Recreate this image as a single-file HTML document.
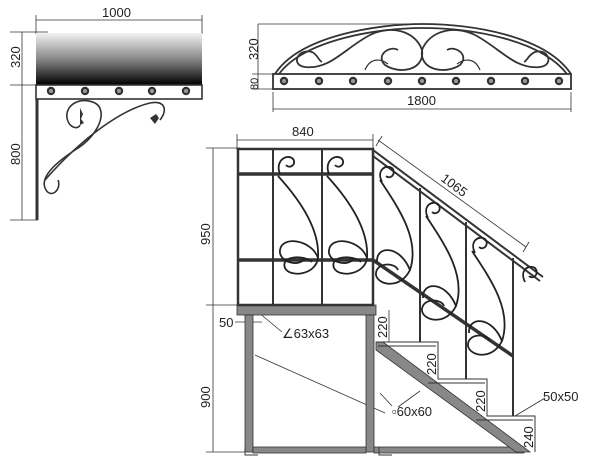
<!DOCTYPE html>
<html><head><meta charset="utf-8"><style>
html,body{margin:0;padding:0;background:#fff;width:600px;height:468px;overflow:hidden}
svg{display:block}
text{font-family:"Liberation Sans",sans-serif;font-size:13px;fill:#222}
</style></head><body>
<svg width="600" height="468" viewBox="0 0 600 468" xmlns="http://www.w3.org/2000/svg">
<defs>
<linearGradient id="g" x1="0" y1="0" x2="0" y2="1">
<stop offset="0" stop-color="#f2f2f2"/><stop offset="0.5" stop-color="#888"/><stop offset="1" stop-color="#000"/>
</linearGradient>
<g id="ros"><circle r="4.2" fill="#333"/><circle r="2" fill="#999"/></g>
</defs>
<g stroke="#333" fill="none" stroke-width="0.8">
<line x1="36" y1="20" x2="202" y2="20"/><line x1="36" y1="15" x2="36" y2="34"/><line x1="202" y1="15" x2="202" y2="34"/>
<line x1="22" y1="32" x2="22" y2="220"/><line x1="10" y1="32" x2="48" y2="32"/><line x1="10" y1="85" x2="36" y2="85"/><line x1="10" y1="220" x2="38" y2="220"/>
</g>
<rect x="36" y="33" width="166" height="52" fill="url(#g)"/>
<g stroke="#333" fill="none" stroke-width="1.6">
<rect x="36" y="85" width="166" height="14"/>
<line x1="37" y1="99" x2="37" y2="220" stroke-width="3"/>
<path d="M45,188 C40,175 60,160 75,150 C100,135 108,110 95,103 C80,96 65,105 67,118 C69,128 78,130 80,125"/>
<path d="M45,188 C50,200 62,190 58,180"/>
<path d="M45,180 C80,140 120,110 150,103 C165,100 168,110 160,120"/>
</g>
<path d="M80,108 l3,6 -2,5 3,4 -4,2z M150,118 l6,-4 3,4 -4,6z" fill="#333"/>
<g><use href="#ros" x="51" y="91"/><use href="#ros" x="85" y="91"/><use href="#ros" x="119" y="91"/><use href="#ros" x="152" y="91"/><use href="#ros" x="186" y="91"/></g>
<text x="102" y="17">1000</text>
<text transform="translate(20,68) rotate(-90)">320</text>
<text transform="translate(20,165) rotate(-90)">800</text>

<g stroke="#333" fill="none" stroke-width="0.8">
<line x1="258" y1="24" x2="420" y2="24"/><line x1="258" y1="24" x2="258" y2="89"/>
<line x1="252" y1="74" x2="274" y2="74"/><line x1="252" y1="89" x2="274" y2="89"/>
<line x1="273" y1="92" x2="273" y2="112"/><line x1="571" y1="92" x2="571" y2="112"/>
<line x1="273" y1="109" x2="571" y2="109"/>
</g>
<g stroke="#333" fill="none" stroke-width="1.8">
<rect x="273" y="74" width="298" height="15"/>
<path d="M275,74 C300,35 380,24 422,24 C470,24 545,35 571,74"/>
<path d="M279,74 C305,39 380,28 422,28 C470,28 540,39 567,74"/>
<path d="M422,50 C415,30 390,25 370,35 C345,48 330,70 305,67 C290,65 298,48 312,52 C318,55 318,60 322,62"/>
<path d="M422,50 C430,30 455,25 475,35 C500,48 515,70 540,67 C555,65 548,48 535,52 C528,55 528,60 524,62"/>
<path d="M422,50 C425,70 400,75 385,65 C375,55 390,45 398,50"/>
<path d="M422,50 C419,70 445,75 460,65 C470,55 455,45 447,50"/>
<path d="M365,70 C370,58 380,58 388,64" stroke-width="1.2"/>
<path d="M480,70 C475,58 465,58 457,64" stroke-width="1.2"/>
</g>
<g><use href="#ros" x="284" y="81"/><use href="#ros" x="319" y="81"/><use href="#ros" x="353" y="81"/><use href="#ros" x="388" y="81"/><use href="#ros" x="422" y="81"/><use href="#ros" x="456" y="81"/><use href="#ros" x="491" y="81"/><use href="#ros" x="525" y="81"/><use href="#ros" x="559" y="81"/></g>
<text x="407" y="105">1800</text>
<text transform="translate(258,60) rotate(-90)">320</text>
<text transform="translate(258,90) rotate(-90)" style="font-size:11px">80</text>

<g stroke="#333" fill="none" stroke-width="0.8">
<line x1="237" y1="140" x2="373" y2="140"/><line x1="237" y1="134" x2="237" y2="150"/><line x1="373" y1="134" x2="373" y2="150"/>
<line x1="213" y1="148" x2="213" y2="452"/><line x1="206" y1="148" x2="240" y2="148"/><line x1="206" y1="305" x2="240" y2="305"/><line x1="206" y1="452" x2="245" y2="452"/>
<line x1="378" y1="140" x2="526" y2="247"/><line x1="376" y1="146" x2="382" y2="136"/><line x1="523" y1="252" x2="529" y2="242"/>
<line x1="235" y1="322" x2="262" y2="322"/>
<line x1="258" y1="312" x2="282" y2="332"/>
<line x1="255" y1="355" x2="385" y2="413"/><line x1="380" y1="393" x2="392" y2="406"/><line x1="420" y1="391" x2="398" y2="407"/>
<line x1="515" y1="416" x2="545" y2="398"/>
<line x1="389" y1="310" x2="389" y2="342"/><line x1="438" y1="342" x2="438" y2="379"/><line x1="487" y1="379" x2="487" y2="416"/><line x1="535" y1="416" x2="535" y2="452"/>
</g>
<text x="292" y="136">840</text>
<text transform="translate(440,180) rotate(37)">1065</text>
<text transform="translate(210,245) rotate(-90)">950</text>
<text transform="translate(210,408) rotate(-90)">900</text>
<text x="219" y="327">50</text>
<text x="282" y="338">∠63x63</text>
<text x="392" y="416">▫60x60</text>
<text x="543" y="401">50x50</text>
<g style="font-size:12px">
<text transform="translate(387,338) rotate(-90)">220</text>
<text transform="translate(436,375) rotate(-90)">220</text>
<text transform="translate(485,412) rotate(-90)">220</text>
<text transform="translate(533,448) rotate(-90)">240</text>
</g>

<g fill="#888" stroke="#333" stroke-width="0.8">
<rect x="237" y="305" width="139" height="10"/>
<rect x="245" y="315" width="8" height="137"/>
<rect x="366" y="315" width="8" height="137"/>
<rect x="253" y="447" width="113" height="6"/>
<rect x="374" y="447" width="150" height="6"/>
<polygon points="376,342 383,342 530,452 516,452 376,350"/>
</g>
<g stroke="#333" fill="none" stroke-width="0.9">
<polyline points="376,342 438,342 438,379 487,379 487,416 535,416 535,452"/>
<line x1="378" y1="346" x2="436" y2="346"/><line x1="428" y1="383" x2="485" y2="383"/><line x1="476" y1="420" x2="533" y2="420"/>
<polyline points="245,447 245,455 258,455"/><polyline points="379,447 379,455 392,455"/>
</g>
<g stroke="#333" fill="none" stroke-width="2">
<rect x="238" y="149" width="135" height="156" stroke-width="2.5"/>
<line x1="238" y1="174" x2="373" y2="174" stroke-width="3.5"/>
<line x1="238" y1="260" x2="373" y2="260" stroke-width="3.5"/>
<line x1="273" y1="150" x2="273" y2="305"/><line x1="322" y1="150" x2="322" y2="305"/>
<line x1="373" y1="150" x2="543" y2="277"/><line x1="373" y1="156" x2="540" y2="281"/>
<line x1="373" y1="260" x2="513" y2="356" stroke-width="3.5"/>
<line x1="420" y1="188" x2="420" y2="342"/><line x1="466" y1="222" x2="466" y2="379"/><line x1="513" y1="258" x2="513" y2="416"/>
</g>
<g stroke="#222" fill="none" stroke-width="1.8">
<path d="M280,174 C275,162 285,154 292,158 C298,163 290,170 286,165"/>
<path d="M329,174 C324,162 334,154 341,158 C347,163 339,170 335,165"/>
<path d="M278,176 C300,200 320,230 318,258 C316,275 290,278 285,268 C280,255 305,255 312,262"/>
<path d="M327,176 C349,200 369,230 367,258 C365,275 339,278 334,268 C329,255 354,255 361,262"/>
<path d="M318,258 C312,240 282,235 280,250 C278,262 300,268 305,258"/>
<path d="M367,258 C361,240 331,235 329,250 C327,262 349,268 354,258"/>
<path d="M382,182 C376,170 386,164 392,168 C397,174 390,180 386,176"/>
<path d="M428,218 C422,206 432,200 438,204 C443,210 436,216 432,212"/>
<path d="M475,253 C469,241 479,235 485,239 C490,245 483,251 479,247"/>
<path d="M525,282 C519,270 529,264 535,268 C540,274 533,280 529,276"/>
<path d="M380,180 C400,210 420,240 410,270 C400,290 378,285 376,275 C375,262 395,262 398,270"/>
<path d="M426,216 C446,246 466,276 456,306 C446,326 424,321 422,311 C421,298 441,298 444,306"/>
<path d="M472,251 C492,281 512,311 502,341 C492,361 470,356 468,346 C467,333 487,333 490,341"/>
<path d="M410,270 C400,245 376,245 377,262"/>
<path d="M456,306 C446,281 422,281 423,298"/>
<path d="M502,341 C492,316 468,316 469,333"/>
</g>
</svg>
</body></html>
